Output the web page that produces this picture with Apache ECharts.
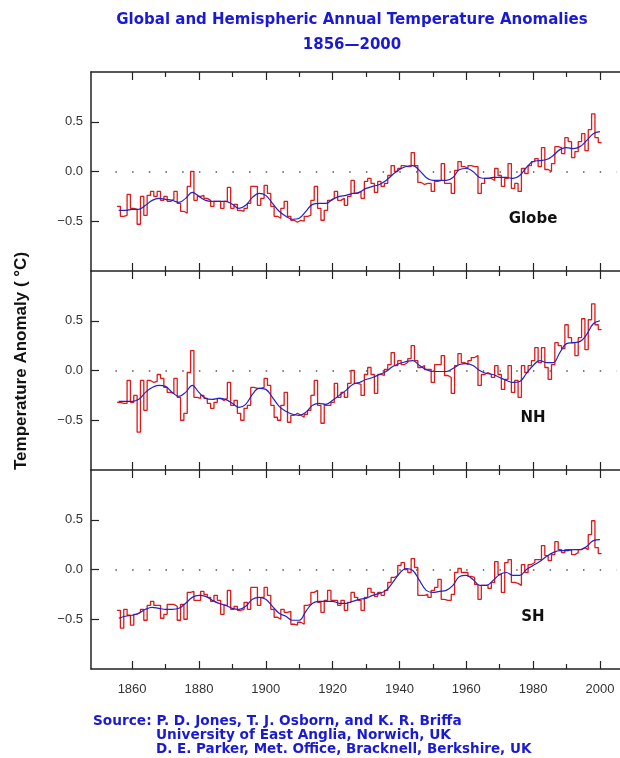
<!DOCTYPE html>
<html>
<head>
<meta charset="utf-8">
<title>Global and Hemispheric Annual Temperature Anomalies</title>
<script src="https://cdn.jsdelivr.net/npm/echarts@6/dist/echarts.min.js"></script>
<style>
html, body { margin: 0; padding: 0; background: #fff; }
#chart { width: 620px; height: 758px; }
</style>
</head>
<body>
<div id="chart"></div>
<script>
// annual anomalies, one value per year from firstYear
var firstYear = 1856;
var globe = [
  -0.35, -0.45, -0.44, -0.23,
  -0.37, -0.38, -0.53, -0.25, -0.44, -0.24, -0.20, -0.25, -0.20, -0.29,
  -0.25, -0.30, -0.28, -0.20, -0.32, -0.40, -0.42, -0.15, 0.00, -0.29,
  -0.25, -0.24, -0.27, -0.29, -0.35, -0.30, -0.30, -0.37, -0.30, -0.16,
  -0.37, -0.33, -0.39, -0.40, -0.37, -0.32, -0.15, -0.15, -0.34, -0.27,
  -0.14, -0.22, -0.35, -0.45, -0.47, -0.37, -0.30, -0.45, -0.49, -0.51,
  -0.49, -0.50, -0.45, -0.44, -0.29, -0.15, -0.37, -0.49, -0.39, -0.29,
  -0.27, -0.20, -0.29, -0.27, -0.34, -0.25, -0.09, -0.22, -0.20, -0.27,
  -0.10, -0.07, -0.12, -0.21, -0.10, -0.15, -0.12, -0.04, 0.06, 0.00,
  0.03, 0.06, 0.05, 0.05, 0.19, 0.06, -0.11, -0.13, -0.12, -0.12,
  -0.20, -0.10, -0.09, 0.08, -0.12, -0.12, -0.22, 0.01, 0.10, 0.05,
  0.03, 0.06, 0.05, 0.05, -0.22, -0.12, -0.07, -0.07, -0.09, 0.03,
  -0.04, -0.15, -0.07, 0.08, -0.17, -0.12, -0.20, 0.03, -0.02, 0.06,
  0.10, 0.13, 0.05, 0.24, 0.02, 0.00, 0.08, 0.25, 0.24, 0.18,
  0.34, 0.30, 0.14, 0.20, 0.30, 0.38, 0.21, 0.42, 0.58, 0.34,
  0.29
];
var nh = [
  -0.32, -0.33, -0.33, -0.10,
  -0.32, -0.25, -0.62, -0.10, -0.40, -0.10, -0.12, -0.11, -0.04, -0.08,
  -0.17, -0.22, -0.23, -0.08, -0.27, -0.50, -0.43, -0.02, 0.20, -0.27,
  -0.28, -0.25, -0.28, -0.33, -0.38, -0.32, -0.28, -0.30, -0.28, -0.12,
  -0.35, -0.30, -0.43, -0.50, -0.38, -0.35, -0.17, -0.18, -0.18, -0.17,
  -0.08, -0.15, -0.35, -0.47, -0.50, -0.35, -0.22, -0.52, -0.45, -0.43,
  -0.45, -0.47, -0.44, -0.40, -0.25, -0.10, -0.35, -0.53, -0.35, -0.35,
  -0.32, -0.13, -0.27, -0.22, -0.27, -0.13, 0.00, -0.13, -0.14, -0.25,
  -0.04, 0.03, -0.04, -0.23, -0.04, -0.05, 0.01, 0.06, 0.18, 0.05,
  0.10, 0.06, 0.08, 0.12, 0.25, 0.10, 0.03, 0.05, 0.01, 0.01,
  -0.12, 0.06, 0.06, 0.15, -0.05, -0.07, -0.23, 0.05, 0.17, 0.08,
  0.06, 0.10, 0.13, 0.15, -0.15, -0.04, -0.02, -0.04, -0.07, 0.05,
  -0.04, -0.19, -0.09, 0.05, -0.22, -0.10, -0.27, 0.05, -0.02, 0.05,
  0.10, 0.23, 0.08, 0.23, 0.03, -0.09, 0.06, 0.28, 0.25, 0.22,
  0.46, 0.33, 0.28, 0.15, 0.33, 0.52, 0.21, 0.51, 0.67, 0.46,
  0.41
];
var sh = [
  -0.41, -0.59, -0.40, -0.46,
  -0.56, -0.45, -0.43, -0.40, -0.51, -0.36, -0.32, -0.36, -0.36, -0.49,
  -0.45, -0.35, -0.35, -0.37, -0.51, -0.35, -0.50, -0.23, -0.22, -0.31,
  -0.31, -0.22, -0.25, -0.28, -0.32, -0.26, -0.31, -0.45, -0.36, -0.21,
  -0.40, -0.37, -0.41, -0.40, -0.33, -0.40, -0.18, -0.18, -0.36, -0.28,
  -0.18, -0.26, -0.40, -0.48, -0.50, -0.40, -0.43, -0.42, -0.55, -0.56,
  -0.53, -0.55, -0.36, -0.35, -0.23, -0.21, -0.33, -0.43, -0.31, -0.21,
  -0.31, -0.31, -0.36, -0.31, -0.41, -0.33, -0.23, -0.28, -0.31, -0.41,
  -0.28, -0.19, -0.23, -0.27, -0.23, -0.26, -0.21, -0.13, -0.08, -0.06,
  0.04, 0.07, 0.00, -0.03, 0.11, 0.02, -0.26, -0.26, -0.25, -0.28,
  -0.21, -0.18, -0.10, -0.30, -0.31, -0.31, -0.25, -0.03, 0.01, -0.03,
  -0.03, -0.07, -0.08, -0.15, -0.30, -0.16, -0.16, -0.19, -0.13, 0.08,
  -0.05, -0.23, 0.07, 0.10, -0.13, -0.14, -0.16, 0.05, -0.03, 0.05,
  0.07, 0.10, 0.10, 0.24, 0.14, 0.09, 0.15, 0.28, 0.20, 0.17,
  0.20, 0.20, 0.15, 0.17, 0.20, 0.22, 0.20, 0.35, 0.49, 0.22,
  0.16
];

// smoothed curves, one value every smoothStep years from firstYear
var smoothStep = 2;
var globeSmooth = [
  -0.39, -0.39, -0.38, -0.38, -0.34, -0.29, -0.27, -0.28, -0.29, -0.31,
  -0.27, -0.21, -0.25, -0.29, -0.30, -0.30, -0.30, -0.33, -0.37, -0.34,
  -0.26, -0.22, -0.24, -0.32, -0.40, -0.45, -0.48, -0.47, -0.40, -0.33,
  -0.32, -0.32, -0.28, -0.25, -0.24, -0.22, -0.21, -0.17, -0.15, -0.13,
  -0.09, -0.03, 0.02, 0.05, 0.06, 0.01, -0.06, -0.09, -0.09, -0.09,
  -0.06, 0.02, 0.03, 0.00, -0.06, -0.07, -0.06, -0.06, -0.06, -0.07,
  -0.04, 0.04, 0.10, 0.11, 0.12, 0.16, 0.22, 0.24, 0.23, 0.25,
  0.31, 0.38, 0.40
];
var nhSmooth = [
  -0.31, -0.31, -0.31, -0.29, -0.22, -0.17, -0.15, -0.16, -0.22, -0.26,
  -0.22, -0.15, -0.22, -0.28, -0.29, -0.28, -0.29, -0.33, -0.37, -0.34,
  -0.24, -0.18, -0.19, -0.27, -0.36, -0.41, -0.44, -0.45, -0.42, -0.35,
  -0.33, -0.34, -0.30, -0.25, -0.20, -0.14, -0.12, -0.09, -0.07, -0.04,
  -0.01, 0.04, 0.07, 0.09, 0.10, 0.05, 0.01, -0.01, -0.01, -0.01,
  0.02, 0.06, 0.07, 0.05, 0.00, -0.03, -0.04, -0.07, -0.10, -0.12,
  -0.11, -0.03, 0.05, 0.10, 0.08, 0.08, 0.18, 0.27, 0.28, 0.29,
  0.36, 0.47, 0.50
];
var shSmooth = [
  -0.49, -0.47, -0.46, -0.44, -0.40, -0.38, -0.39, -0.40, -0.40, -0.39,
  -0.34, -0.28, -0.26, -0.27, -0.31, -0.34, -0.36, -0.39, -0.40, -0.37,
  -0.30, -0.28, -0.30, -0.37, -0.44, -0.47, -0.51, -0.51, -0.42, -0.34,
  -0.32, -0.32, -0.32, -0.34, -0.34, -0.32, -0.30, -0.29, -0.26, -0.24,
  -0.21, -0.13, -0.04, 0.01, -0.01, -0.11, -0.21, -0.23, -0.22, -0.21,
  -0.16, -0.07, -0.06, -0.10, -0.16, -0.16, -0.11, -0.05, -0.03, -0.06,
  -0.06, 0.00, 0.04, 0.08, 0.13, 0.17, 0.19, 0.19, 0.20, 0.20,
  0.23, 0.29, 0.30
];

var panelNames = ['Globe', 'NH', 'SH'];
var labelYears = [1860, 1880, 1900, 1920, 1940, 1960, 1980, 2000];
var minorYears = [1870, 1890, 1910, 1930, 1950, 1970, 1990];
var yTicks = [-0.5, 0, 0.5];

var font = '"Liberation Sans", Arial, sans-serif';
var wide = '"DejaVu Sans", Verdana, sans-serif';
var red = '#dd1a1a';
var blue = '#2222cc';
var ink = '#222';
var textBlue = '#1a1ad6';
var tops = [72, 271, 470];
var panelHeight = 199;
var xMin = 1847.7, xMax = 2006;

function stepData(vals) {
  var d = vals.map(function (v, i) { return [firstYear + i - 0.5, v]; });
  d.push([firstYear + vals.length - 0.5, vals[vals.length - 1]]);
  return d;
}
function smoothData(vals) {
  return vals.map(function (v, i) { return [firstYear + i * smoothStep, v]; });
}
function tickAxis(k, pos, ticks, len, line, labels) {
  return {
    gridIndex: k, type: 'value', position: pos, min: xMin, max: xMax,
    splitLine: { show: false },
    axisLine: { show: line, onZero: false, lineStyle: { color: ink, width: 1.5 } },
    axisTick: { show: true, inside: true, length: len, customValues: ticks,
                lineStyle: { color: ink, width: 1.2 } },
    axisLabel: { show: labels, customValues: labelYears, margin: 14,
                 color: '#333', fontSize: 13, fontFamily: font,
                 formatter: function (v) { return String(v); } }
  };
}

var annual = [globe, nh, sh];
var smooth = [globeSmooth, nhSmooth, shSmooth];
var grids = [], xAxes = [], yAxes = [], series = [], graphics = [];

panelNames.forEach(function (name, k) {
  grids.push({ left: 91, right: 0, top: tops[k], height: panelHeight, containLabel: false, outerBoundsMode: 'none' });
  var first = xAxes.length;
  xAxes.push(tickAxis(k, 'bottom', labelYears, 8, true, k === 2));
  xAxes.push(tickAxis(k, 'bottom', minorYears, 5, false, false));
  xAxes.push(tickAxis(k, 'top', labelYears, 8, k === 0, false));
  xAxes.push(tickAxis(k, 'top', minorYears, 5, false, false));
  yAxes.push({
    gridIndex: k, type: 'value', min: -1, max: 1, interval: 0.5,
    splitLine: { show: false },
    axisLine: { show: true, onZero: false, lineStyle: { color: ink, width: 1.5 } },
    axisTick: { inside: true, length: 8, customValues: yTicks, lineStyle: { color: ink, width: 1.2 } },
    axisLabel: {
      customValues: yTicks, margin: 8, color: '#333', fontSize: 13, fontFamily: font,
      formatter: function (v) { return v < 0 ? '\u2212' + (-v).toFixed(1) : v.toFixed(1); }
    }
  });
  series.push({
    name: name, type: 'line', xAxisIndex: first, yAxisIndex: k,
    step: 'end', symbol: 'none', data: stepData(annual[k]),
    lineStyle: { color: red, width: 1.3 },
    markLine: {
      silent: true, symbol: ['none', 'none'], label: { show: false },
      lineStyle: { color: '#555', type: [1.5, 15.2], width: 1.5 },
      data: [[{ coord: [1855, 0] }, { coord: [2005, 0] }]]
    }
  });
  series.push({
    name: name + ' smoothed', type: 'line', xAxisIndex: first, yAxisIndex: k,
    smooth: 0.4, symbol: 'none', data: smoothData(smooth[k]),
    lineStyle: { color: blue, width: 1.2 }
  });
  graphics.push({
    type: 'text', x: 533, y: tops[k] + 147, z: 10,
    style: { text: name, font: 'bold 15px ' + wide, fill: '#111',
             textAlign: 'center', textVerticalAlign: 'middle' }
  });
});

graphics.push(
  { type: 'text', x: 352, y: 20,
    style: { text: 'Global and Hemispheric Annual Temperature Anomalies', font: 'bold 15px ' + wide,
             fill: textBlue, textAlign: 'center', textVerticalAlign: 'middle' } },
  { type: 'text', x: 352, y: 45,
    style: { text: '1856\u20142000', font: 'bold 15px ' + wide,
             fill: textBlue, textAlign: 'center', textVerticalAlign: 'middle' } },
  { type: 'text', x: 21, y: 361, rotation: Math.PI / 2,
    style: { text: 'Temperature Anomaly ( \u00b0C)', font: 'bold 17px ' + font,
             fill: '#111', textAlign: 'center', textVerticalAlign: 'middle' } },
  { type: 'text', x: 93, y: 721,
    style: { text: 'Source: P. D. Jones, T. J. Osborn, and K. R. Briffa', font: 'bold 13.7px ' + wide,
             fill: textBlue, textAlign: 'left', textVerticalAlign: 'middle' } },
  { type: 'text', x: 156, y: 735,
    style: { text: 'University of East Anglia, Norwich, UK', font: 'bold 13.7px ' + wide,
             fill: textBlue, textAlign: 'left', textVerticalAlign: 'middle' } },
  { type: 'text', x: 156, y: 749,
    style: { text: 'D. E. Parker, Met. Office, Bracknell, Berkshire, UK', font: 'bold 13.5px ' + wide,
             fill: textBlue, textAlign: 'left', textVerticalAlign: 'middle' } }
);

var chart = echarts.init(document.getElementById('chart'));
chart.setOption({
  animation: false,
  backgroundColor: '#fff',
  grid: grids,
  xAxis: xAxes,
  yAxis: yAxes,
  series: series,
  graphic: graphics
});
</script>
</body>
</html>
